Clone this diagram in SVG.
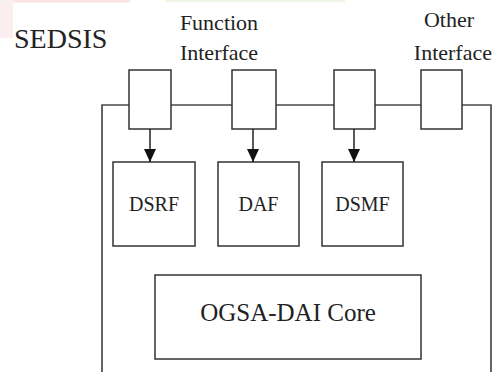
<svg xmlns="http://www.w3.org/2000/svg" width="493" height="372" viewBox="0 0 493 372">
  <style>
    .box { fill: #ffffff; stroke: #333333; stroke-width: 1.5; }
    .wire { fill: none; stroke: #4a4a4a; stroke-width: 1.7; }
    .label { font-family: "Liberation Serif", "DejaVu Serif", "Times New Roman", serif; fill: #222222; }
    .arrow { fill: none; stroke: #222222; stroke-width: 1.5; }
  </style>
  <defs>
    <marker id="head" viewBox="0 0 13 12" refX="13" refY="6" markerWidth="13" markerHeight="12" markerUnits="userSpaceOnUse" orient="auto">
      <path d="M0,0 L13,6 L0,12 Z" fill="#111111"/>
    </marker>
  </defs>

  <rect width="493" height="372" fill="#ffffff"/>
  <!-- faint tinted bands along the top edge -->
  <rect x="0" y="0" width="130" height="2.5" fill="#fbe3e6"/>
  <rect x="0" y="0" width="13" height="38" fill="#fbeef0"/>
  <rect x="165" y="0" width="180" height="2" fill="#eef7e6"/>

  <!-- headings -->
  <text class="label" x="14" y="48" font-size="28">SEDSIS</text>
  <text class="label" x="219" y="30" font-size="22" text-anchor="middle">Function</text>
  <text class="label" x="219" y="60" font-size="22" text-anchor="middle">Interface</text>
  <text class="label" x="449" y="27" font-size="22" text-anchor="middle">Other</text>
  <text class="label" x="492" y="60" font-size="22" text-anchor="end">Interface</text>

  <!-- outer system boundary -->
  <g id="boundary">
    <polyline class="wire" points="102,372 102,105 491,105 491,372"/>
  </g>

  <!-- interface ports sitting on the boundary -->
  <g id="port-dsrf"><rect class="box" x="129" y="70" width="42" height="59"/></g>
  <g id="port-daf"><rect class="box" x="232" y="70" width="44" height="59"/></g>
  <g id="port-dsmf"><rect class="box" x="334" y="70" width="41" height="59"/></g>
  <g id="port-other"><rect class="box" x="421" y="70" width="41" height="59"/></g>

  <!-- function modules -->
  <g id="dsrf">
    <rect class="box" x="113" y="162" width="82" height="84"/>
    <text class="label" x="154" y="211" font-size="20" text-anchor="middle">DSRF</text>
  </g>
  <g id="daf">
    <rect class="box" x="218" y="162" width="81" height="84"/>
    <text class="label" x="258.5" y="211" font-size="20" text-anchor="middle">DAF</text>
  </g>
  <g id="dsmf">
    <rect class="box" x="322" y="162" width="81" height="84"/>
    <text class="label" x="362.5" y="211" font-size="20" text-anchor="middle">DSMF</text>
  </g>

  <g id="core">
    <rect class="box" x="155" y="275" width="266" height="84"/>
    <text class="label" x="288" y="321" font-size="25" text-anchor="middle">OGSA-DAI Core</text>
  </g>

  <!-- port-to-module connectors -->
  <g id="connectors">
    <line class="arrow" x1="150" y1="129" x2="150" y2="162" marker-end="url(#head)"/>
    <line class="arrow" x1="253" y1="129" x2="253" y2="162" marker-end="url(#head)"/>
    <line class="arrow" x1="354" y1="129" x2="354" y2="162" marker-end="url(#head)"/>
  </g>
</svg>
